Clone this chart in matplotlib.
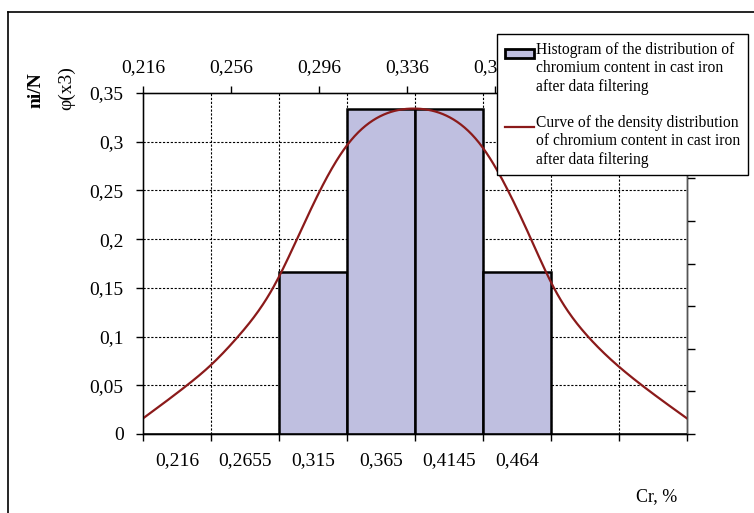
import numpy as np
import matplotlib
matplotlib.use("Agg")
import matplotlib.pyplot as plt
from matplotlib.patches import Patch, Rectangle
from matplotlib.lines import Line2D
from matplotlib.legend_handler import HandlerBase

plt.rcParams['font.family'] = ['Liberation Serif', 'DejaVu Serif']

# ---------------- data ----------------
bin_labels = ["0,216", "0,2655", "0,315", "0,365", "0,4145", "0,464", "", ""]
hist_values = [0.0, 0.0, 0.1667, 0.3333, 0.3333, 0.1667, 0.0, 0.0]

curve_x = [0.2160, 0.2360, 0.2465, 0.2592, 0.2751, 0.2860, 0.2965, 0.3083, 0.3237,
           0.3392, 0.3546, 0.3701, 0.3819, 0.3924, 0.4028, 0.4183, 0.4319, 0.4428, 0.4633]
curve_y = [0.016, 0.050, 0.070, 0.100, 0.150, 0.200, 0.250, 0.295, 0.326,
           0.334, 0.326, 0.295, 0.250, 0.200, 0.150, 0.100, 0.070, 0.050, 0.016]

top_ticks = [0.216, 0.256, 0.296, 0.336, 0.376, 0.416, 0.456]
top_labels = ["0,216", "0,256", "0,296", "0,336", "0,376", "", ""]
y_ticks = [0, 0.05, 0.1, 0.15, 0.2, 0.25, 0.3, 0.35]
y_labels = ["0", "0,05", "0,1", "0,15", "0,2", "0,25", "0,3", "0,35"]

legend_hist = "Histogram of the distribution of\nchromium content in cast iron\nafter data filtering"
legend_curve = "Curve of the density distribution\nof chromium content in cast iron\nafter data filtering"

bar_color = "#bfbfe0"
curve_color = "#8b1a1a"


def natural_spline(xs, ys, n=600):
    """Smooth rendering of the read points (natural cubic spline)."""
    x = np.asarray(xs, float); y = np.asarray(ys, float)
    m = len(x)
    h = np.diff(x)
    A = np.zeros((m, m)); rhs = np.zeros(m)
    A[0, 0] = A[-1, -1] = 1
    for i in range(1, m - 1):
        A[i, i - 1] = h[i - 1]
        A[i, i] = 2 * (h[i - 1] + h[i])
        A[i, i + 1] = h[i]
        rhs[i] = 6 * ((y[i + 1] - y[i]) / h[i] - (y[i] - y[i - 1]) / h[i - 1])
    M = np.linalg.solve(A, rhs)
    xx = np.linspace(x[0], x[-1], n)
    k = np.clip(np.searchsorted(x, xx) - 1, 0, m - 2)
    x0, x1 = x[k], x[k + 1]; hk = h[k]
    yy = (M[k] * (x1 - xx) ** 3 / (6 * hk) + M[k + 1] * (xx - x0) ** 3 / (6 * hk)
          + (y[k] / hk - M[k] * hk / 6) * (x1 - xx) + (y[k + 1] / hk - M[k + 1] * hk / 6) * (xx - x0))
    return xx, yy


class TopPatchHandler(HandlerBase):
    def create_artists(self, legend, orig, xdescent, ydescent, width, height, fontsize, trans):
        shift = 0.95 * fontsize
        r = Rectangle((-xdescent, -ydescent + shift), width, height,
                      facecolor=orig.get_facecolor(), edgecolor=orig.get_edgecolor(),
                      linewidth=orig.get_linewidth(), transform=trans)
        return [r]


class TopLineHandler(HandlerBase):
    def create_artists(self, legend, orig, xdescent, ydescent, width, height, fontsize, trans):
        shift = 0.95 * fontsize
        y = height / 2 - ydescent + shift
        ln = Line2D([-xdescent, -xdescent + width], [y, y], color=orig.get_color(),
                    lw=orig.get_linewidth(), transform=trans)
        return [ln]


W, H = 754, 513
fig = plt.figure(figsize=(W / 100, H / 100), dpi=100)
L, R, T, B = 143, 687, 93, 434
ax = fig.add_axes([L / W, 1 - B / H, (R - L) / W, (B - T) / H])

n = len(hist_values)
ax.set_xlim(0, n)
ax.set_ylim(0, 0.35)

# gridlines
for yv in y_ticks[1:-1]:
    ax.axhline(yv, color='black', lw=0.8, ls=(0, (2, 1.5)), zorder=1)
for xv in range(1, n):
    ax.axvline(xv, color='black', lw=0.8, ls=(0, (2, 1.5)), zorder=1)

# bars
idx = np.arange(n)
ax.bar(idx + 0.5, hist_values, width=1.0, color=bar_color, edgecolor='black', linewidth=1.8, zorder=2)

# bottom axis
ax.set_xticks(range(n + 1))
ax.set_xticklabels([])
ax.set_xticks(idx + 0.5, minor=True)
ax.set_xticklabels(bin_labels, minor=True, fontsize=14)
ax.tick_params(axis='x', which='major', direction='out', length=5, width=1)
ax.tick_params(axis='x', which='minor', length=0, pad=13)

# left axis
ax.set_yticks(y_ticks)
ax.set_yticklabels(y_labels, fontsize=14)
ax.tick_params(axis='y', direction='out', length=5, width=1, pad=9)
for s in ax.spines.values():
    s.set_linewidth(1.0)
    s.set_color('black')

# top axis with curve
ax2 = ax.twiny()
ax2.set_xlim(curve_x[0], curve_x[-1])
ax2.set_ylim(0, 0.35)
sx, sy = natural_spline(curve_x, curve_y)
ax2.plot(sx, sy, color=curve_color, lw=1.6, zorder=3)
ax2.set_xticks(top_ticks)
ax2.set_xticklabels(top_labels, fontsize=14)
ax2.tick_params(axis='x', direction='out', length=5, width=1, pad=7)

# right axis ticks (no labels)
ax3 = ax.twinx()
ax3.set_ylim(0, 8)
ax3.set_yticks(range(9))
ax3.set_yticklabels([])
ax3.tick_params(axis='y', direction='out', length=6, width=1)
ax3.spines['right'].set_color('#555555')

# axis titles
fig.text(36 / W, 1 - 90 / H, "ni/N", rotation=90, fontsize=14, fontweight='bold',
         ha='center', va='center')
fig.text(67 / W, 1 - 88 / H, "φ(x3)", rotation=90, fontsize=14, ha='center', va='center')
fig.text(657 / W, 1 - 497 / H, "Cr, %", fontsize=13, ha='center', va='center')

# legend
h_patch = Patch(facecolor=bar_color, edgecolor='black', linewidth=2.0)
h_line = Line2D([0], [0], color=curve_color, lw=1.6)
leg = fig.legend([h_patch, h_line], [legend_hist, legend_curve], loc='upper left',
                 bbox_to_anchor=(497 / W, 1 - 34 / H), fontsize=11.2, frameon=True,
                 fancybox=False, edgecolor='black', framealpha=1, handlelength=1.9,
                 handleheight=0.5, handletextpad=0.1, borderpad=0.5, labelspacing=1.3,
                 borderaxespad=0,
                 handler_map={Patch: TopPatchHandler(), Line2D: TopLineHandler()})
leg.get_frame().set_linewidth(1.0)
leg.set_zorder(10)

# outer frame
fig.add_artist(Line2D([8 / W, 8 / W], [0, 1 - 12 / H], color='black', lw=1.2))
fig.add_artist(Line2D([8 / W, 1], [1 - 12 / H, 1 - 12 / H], color='black', lw=1.2))

fig.savefig("out.png", dpi=100)
